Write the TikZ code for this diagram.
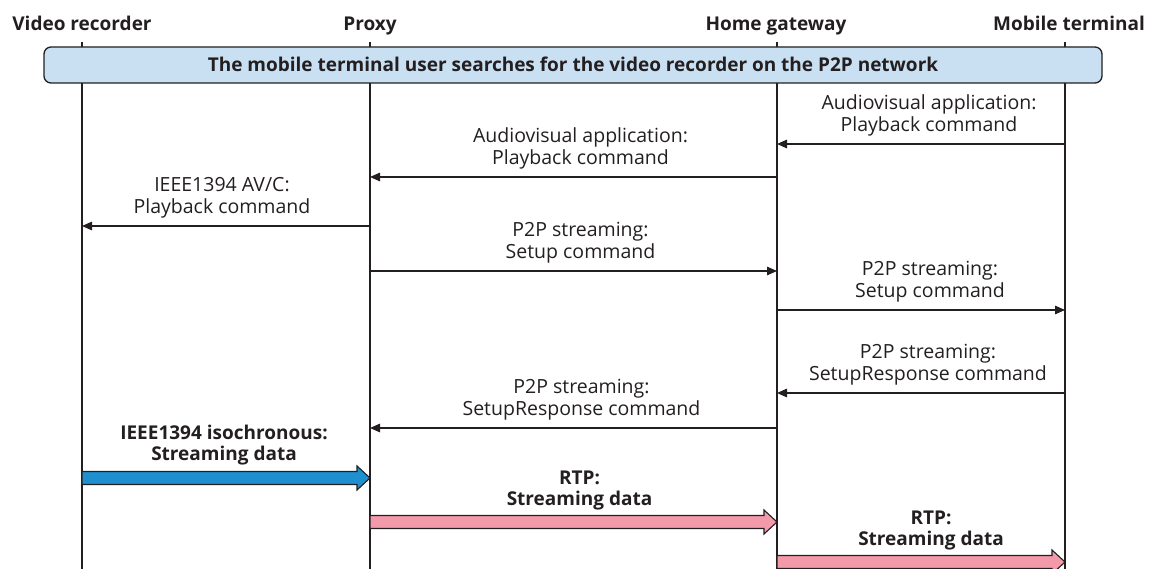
\documentclass[tikz,border=0pt]{standalone}
\usepackage{fontspec}
\setmainfont{Open Sans}
\usetikzlibrary{arrows.meta,calc}
\definecolor{ink}{HTML}{231F20}
\definecolor{bannerfill}{HTML}{C9DFF2}
\definecolor{isoblue}{HTML}{1E90D0}
\definecolor{rtppink}{HTML}{F39AAA}
\tikzset{
  head/.style={font=\fontsize{19}{22}\selectfont\bfseries, text=ink, anchor=base, inner sep=0pt},
  life/.style={draw=ink, line width=1.8pt},
  msg/.style={draw=ink, line width=1.3pt, -{Triangle[length=10pt,width=8.5pt]}},
  lbl/.style={font=\fontsize{19.5}{22}\selectfont, text=ink, align=center, anchor=south,
    inner sep=0pt, yshift=7.5pt},
  blbl/.style={font=\fontsize{19}{21}\selectfont\bfseries, text=ink, align=center,
    anchor=south, inner sep=0pt},
  fat/.style={draw=ink, line width=1.1pt, line join=miter},
  banner/.style={draw=ink, line width=1.3pt, fill=bannerfill, rounded corners=7pt,
    minimum width=1058pt, minimum height=36pt, inner sep=0pt, text height=14pt, text depth=0pt,
    font=\fontsize{19}{22}\selectfont\bfseries, text=ink}
}
% fat block arrow from #1 to #2, filled with #3
\newcommand\fatarrow[3]{%
  \draw[fat, fill=#3] ($(#1)+(0,-6.5)$) -- ($(#2)+(-13,-6.5)$) -- ($(#2)+(-13,-12)$)
    -- (#2) -- ($(#2)+(-13,12)$) -- ($(#2)+(-13,6.5)$) -- ($(#1)+(0,6.5)$) -- cycle;}
\begin{document}
\begin{tikzpicture}[x=1pt, y=-1pt]
\useasboundingbox (0,0) rectangle (1149,569);

% participants
\node[head] (vrh) at (82,31) {Video recorder};
\node[head] (pxh) at (370,31) {Proxy};
\node[head] (hgh) at (776,31) {Home gateway};
\node[head] (mth) at (1069,31) {Mobile terminal};

\coordinate (vr) at (82,42);
\coordinate (px) at (370,42);
\coordinate (hg) at (777,42);
\coordinate (mt) at (1065,42);
\draw[life] (vr) -- (vr |- 0,569);
\draw[life] (px) -- (px |- 0,569);
\draw[life] (hg) -- (hg |- 0,569);
\draw[life] (mt) -- (mt |- 0,569);

\node[banner] (search) at (573,65) {The mobile terminal user searches for the video recorder on the P2P network};

% control messages
\draw[msg] (mt |- 0,144) -- (hg |- 0,144)
  node[lbl, midway, xshift=8pt] {Audiovisual application:\\Playback command};
\draw[msg] (hg |- 0,177) -- (px |- 0,177)
  node[lbl, midway, xshift=7pt] {Audiovisual application:\\Playback command};
\draw[msg] (px |- 0,226) -- (vr |- 0,226)
  node[lbl, midway, xshift=-4pt] {IEEE1394 AV/C:\\Playback command};
\draw[msg] (px |- 0,271) -- (hg |- 0,271)
  node[lbl, midway, xshift=7pt] {P2P streaming:\\Setup command};
\draw[msg] (hg |- 0,310) -- (mt |- 0,310)
  node[lbl, midway, xshift=9pt] {P2P streaming:\\Setup command};
\draw[msg] (mt |- 0,393) -- (hg |- 0,393)
  node[lbl, midway, xshift=7pt] {P2P streaming:\\SetupResponse command};
\draw[msg] (hg |- 0,428) -- (px |- 0,428)
  node[lbl, midway, xshift=8pt] {P2P streaming:\\SetupResponse command};

% streaming data
\coordinate (iso-a) at (vr |- 0,478);
\coordinate (iso-b) at (px |- 0,478);
\fatarrow{iso-a}{iso-b}{isoblue}
\node[blbl] (iso-l) at ($(iso-a)!0.5!(iso-b)+(-2,-12.5)$) {IEEE1394 isochronous:\\Streaming data};

\coordinate (rtp1-a) at (px |- 0,522);
\coordinate (rtp1-b) at (hg |- 0,522);
\fatarrow{rtp1-a}{rtp1-b}{rtppink}
\node[blbl] (rtp1-l) at ($(rtp1-a)!0.5!(rtp1-b)+(6,-11.5)$) {RTP:\\Streaming data};

\coordinate (rtp2-a) at (hg |- 0,562);
\coordinate (rtp2-b) at (mt |- 0,562);
\fatarrow{rtp2-a}{rtp2-b}{rtppink}
\node[blbl] (rtp2-l) at ($(rtp2-a)!0.5!(rtp2-b)+(10,-11.5)$) {RTP:\\Streaming data};
\end{tikzpicture}
\end{document}
